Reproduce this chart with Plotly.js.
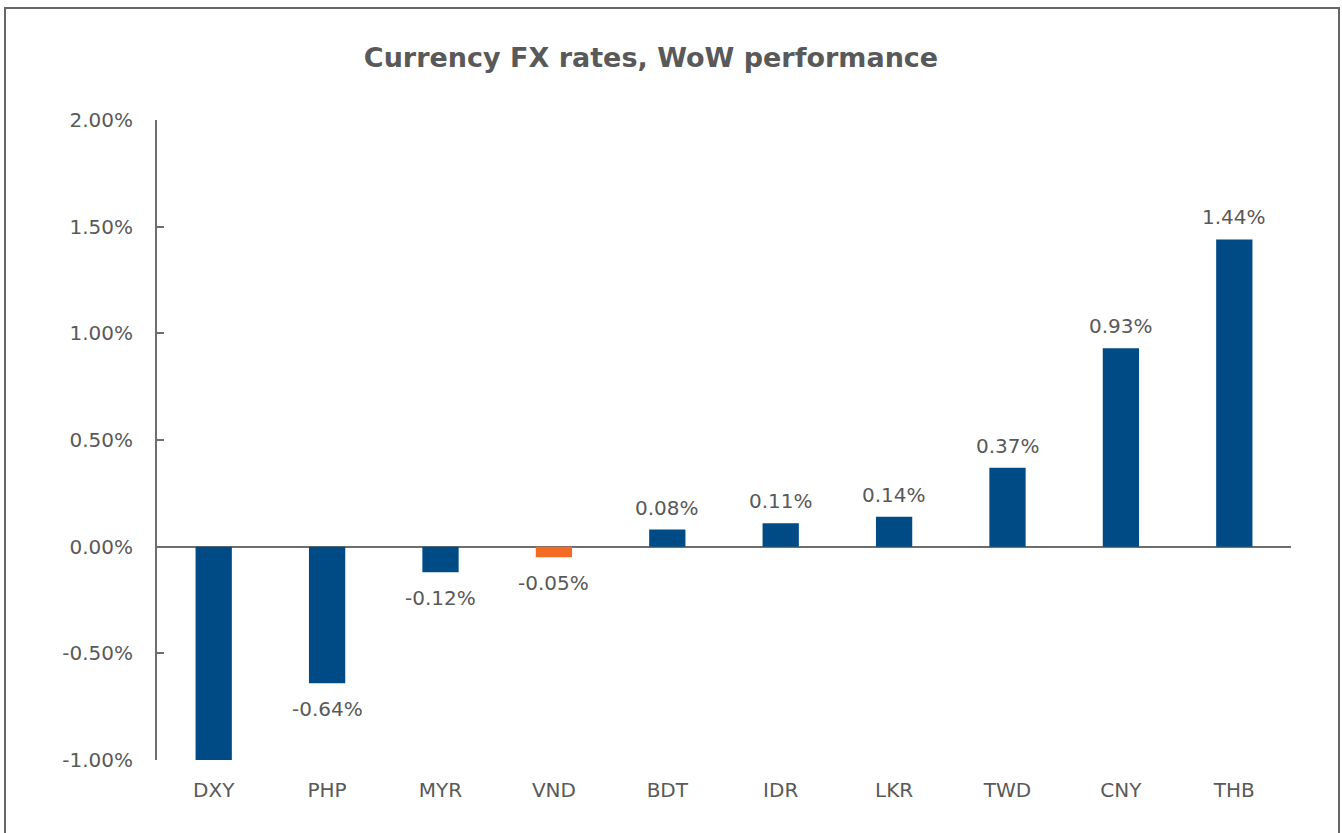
<!DOCTYPE html>
<html>
<head>
<meta charset="utf-8">
<script src="https://cdn.plot.ly/plotly-3.0.1.min.js"></script>
<style>
  html, body { margin: 0; padding: 0; background: #ffffff; }
  #wrap { position: relative; width: 1342px; height: 833px; overflow: hidden; }
  #chart { position: absolute; left: 0; top: 0; width: 1342px; height: 833px; }
  #frame { position: absolute; left: 4px; top: 7px; width: 1336px; height: 840px;
           border: 2px solid #666666; box-sizing: border-box; pointer-events: none; }
</style>
</head>
<body>
<div id="wrap">
  <div id="chart"></div>
  <div id="frame"></div>
</div>
<script>
const categories = ["DXY", "PHP", "MYR", "VND", "BDT", "IDR", "LKR", "TWD", "CNY", "THB"];
const values = [-1.00, -0.64, -0.12, -0.05, 0.08, 0.11, 0.14, 0.37, 0.93, 1.44];
const valueLabels = ["", "-0.64%", "-0.12%", "-0.05%", "0.08%", "0.11%", "0.14%", "0.37%", "0.93%", "1.44%"];
const barColors = ["#004B85", "#004B85", "#004B85", "#F26A24", "#004B85", "#004B85", "#004B85", "#004B85", "#004B85", "#004B85"];
const yTickValues = [-1.0, -0.5, 0.0, 0.5, 1.0, 1.5, 2.0];
const yTickLabels = ["-1.00%", "-0.50%", "0.00%", "0.50%", "1.00%", "1.50%", "2.00%"];

const fontFam = "'DejaVu Sans', sans-serif";
const textGray = "#595959";
const axisGray = "#6e6e6e";

const annotations = categories.map((c, i) => ({
  x: c, y: values[i], xref: 'x', yref: 'y',
  text: valueLabels[i], showarrow: false,
  yanchor: values[i] >= 0 ? 'bottom' : 'top',
  yshift: values[i] >= 0 ? 8 : -12,
  font: { family: fontFam, size: 20, color: textGray }
}));

const trace = {
  type: 'bar',
  x: categories,
  y: values,
  marker: { color: barColors },
  hoverinfo: 'none'
};

const layout = {
  width: 1342, height: 833,
  margin: { l: 157, r: 51, t: 120, b: 73 },
  paper_bgcolor: '#ffffff', plot_bgcolor: '#ffffff',
  showlegend: false,
  bargap: 0.68,
  title: {
    text: '<b>Currency FX rates, WoW performance</b>',
    x: 651 / 1342, xref: 'container', xanchor: 'center',
    y: 1 - 58 / 833, yref: 'container', yanchor: 'middle',
    font: { family: "'DejaVu Sans', sans-serif", size: 27, color: textGray }
  },
  xaxis: {
    type: 'category',
    showline: false, showgrid: false, zeroline: false,
    ticks: 'outside', ticklen: 12, tickcolor: 'rgba(0,0,0,0)',
    tickfont: { family: fontFam, size: 20, color: textGray }
  },
  yaxis: {
    range: [-1, 2],
    tickmode: 'array', tickvals: yTickValues, ticktext: yTickLabels,
    showline: true, linecolor: axisGray, linewidth: 2,
    ticks: 'inside', ticklen: 7, tickwidth: 2, tickcolor: axisGray,
    ticklabelstandoff: 18,
    showgrid: false,
    zeroline: true, zerolinecolor: axisGray, zerolinewidth: 2,
    tickfont: { family: fontFam, size: 20, color: textGray }
  },
  annotations: annotations
};

Plotly.newPlot('chart', [trace], layout, { displayModeBar: false, staticPlot: true });
</script>
</body>
</html>
